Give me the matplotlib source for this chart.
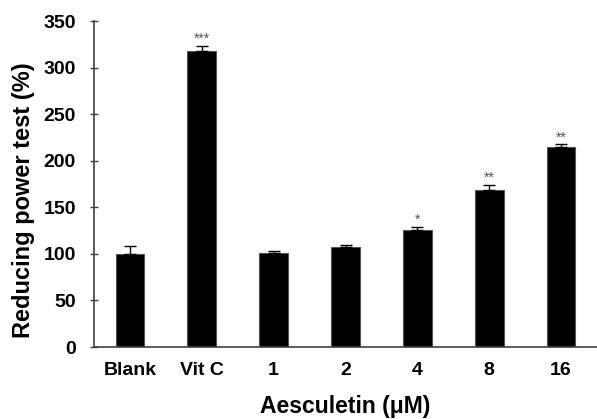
import matplotlib
matplotlib.use('Agg')
import matplotlib.pyplot as plt
import numpy as np

# values
groups = ['Blank', 'Vit C', '1', '2', '4', '8', '16']
means = [100, 318, 101, 107, 126, 169, 215]
errors = [8, 5, 2.5, 2, 3, 5, 2.5]
stars = ['', '***', '', '', '*', '**', '**']
yticks = [0, 50, 100, 150, 200, 250, 300, 350]

plt.rcParams['font.family'] = ['Liberation Sans', 'DejaVu Sans']

fig = plt.figure(figsize=(5.97, 4.19), dpi=100)
ax = fig.add_axes([94 / 597, 1 - 347 / 419, 1 - 94 / 597, (347 - 21) / 419])

x = np.arange(len(groups))
ax.bar(x, means, width=0.4, color='black', edgecolor='#555555', linewidth=0.8)
ax.errorbar(x, means, yerr=[np.zeros(len(errors)), errors], fmt='none',
            ecolor='black', elinewidth=1, capsize=4, capthick=1)

# significance marks above the error bars
for xi, m, e, s in zip(x, means, errors, stars):
    if s:
        ax.annotate(s, (xi, m + e), xytext=(0, 0), textcoords='offset points',
                    ha='center', va='bottom', fontsize=10, color='#555555')

ax.set_xlim(-0.5, len(groups) - 0.5)
ax.set_ylim(0, 350)
ax.set_yticks(yticks)
ax.set_xticks(x)
ax.set_xticklabels(groups)

for side in ['top', 'right']:
    ax.spines[side].set_visible(False)
for side in ['left', 'bottom']:
    ax.spines[side].set_color('#404040')
    ax.spines[side].set_linewidth(1.2)

ax.tick_params(axis='y', direction='inout', length=6, width=1, color='#404040',
               labelsize=14, pad=10)
ax.tick_params(axis='x', length=0, labelsize=14, pad=11)
for lbl in ax.get_xticklabels() + ax.get_yticklabels():
    lbl.set_fontweight('bold')

ax.set_ylabel('Reducing power test (%)', fontsize=17, fontweight='bold')
ax.yaxis.set_label_coords(-0.117, 0.45)
ax.set_xlabel('Aesculetin (\u03bcM)', fontsize=16.5, fontweight='bold', labelpad=11)

plt.savefig('out.png', dpi=100)
